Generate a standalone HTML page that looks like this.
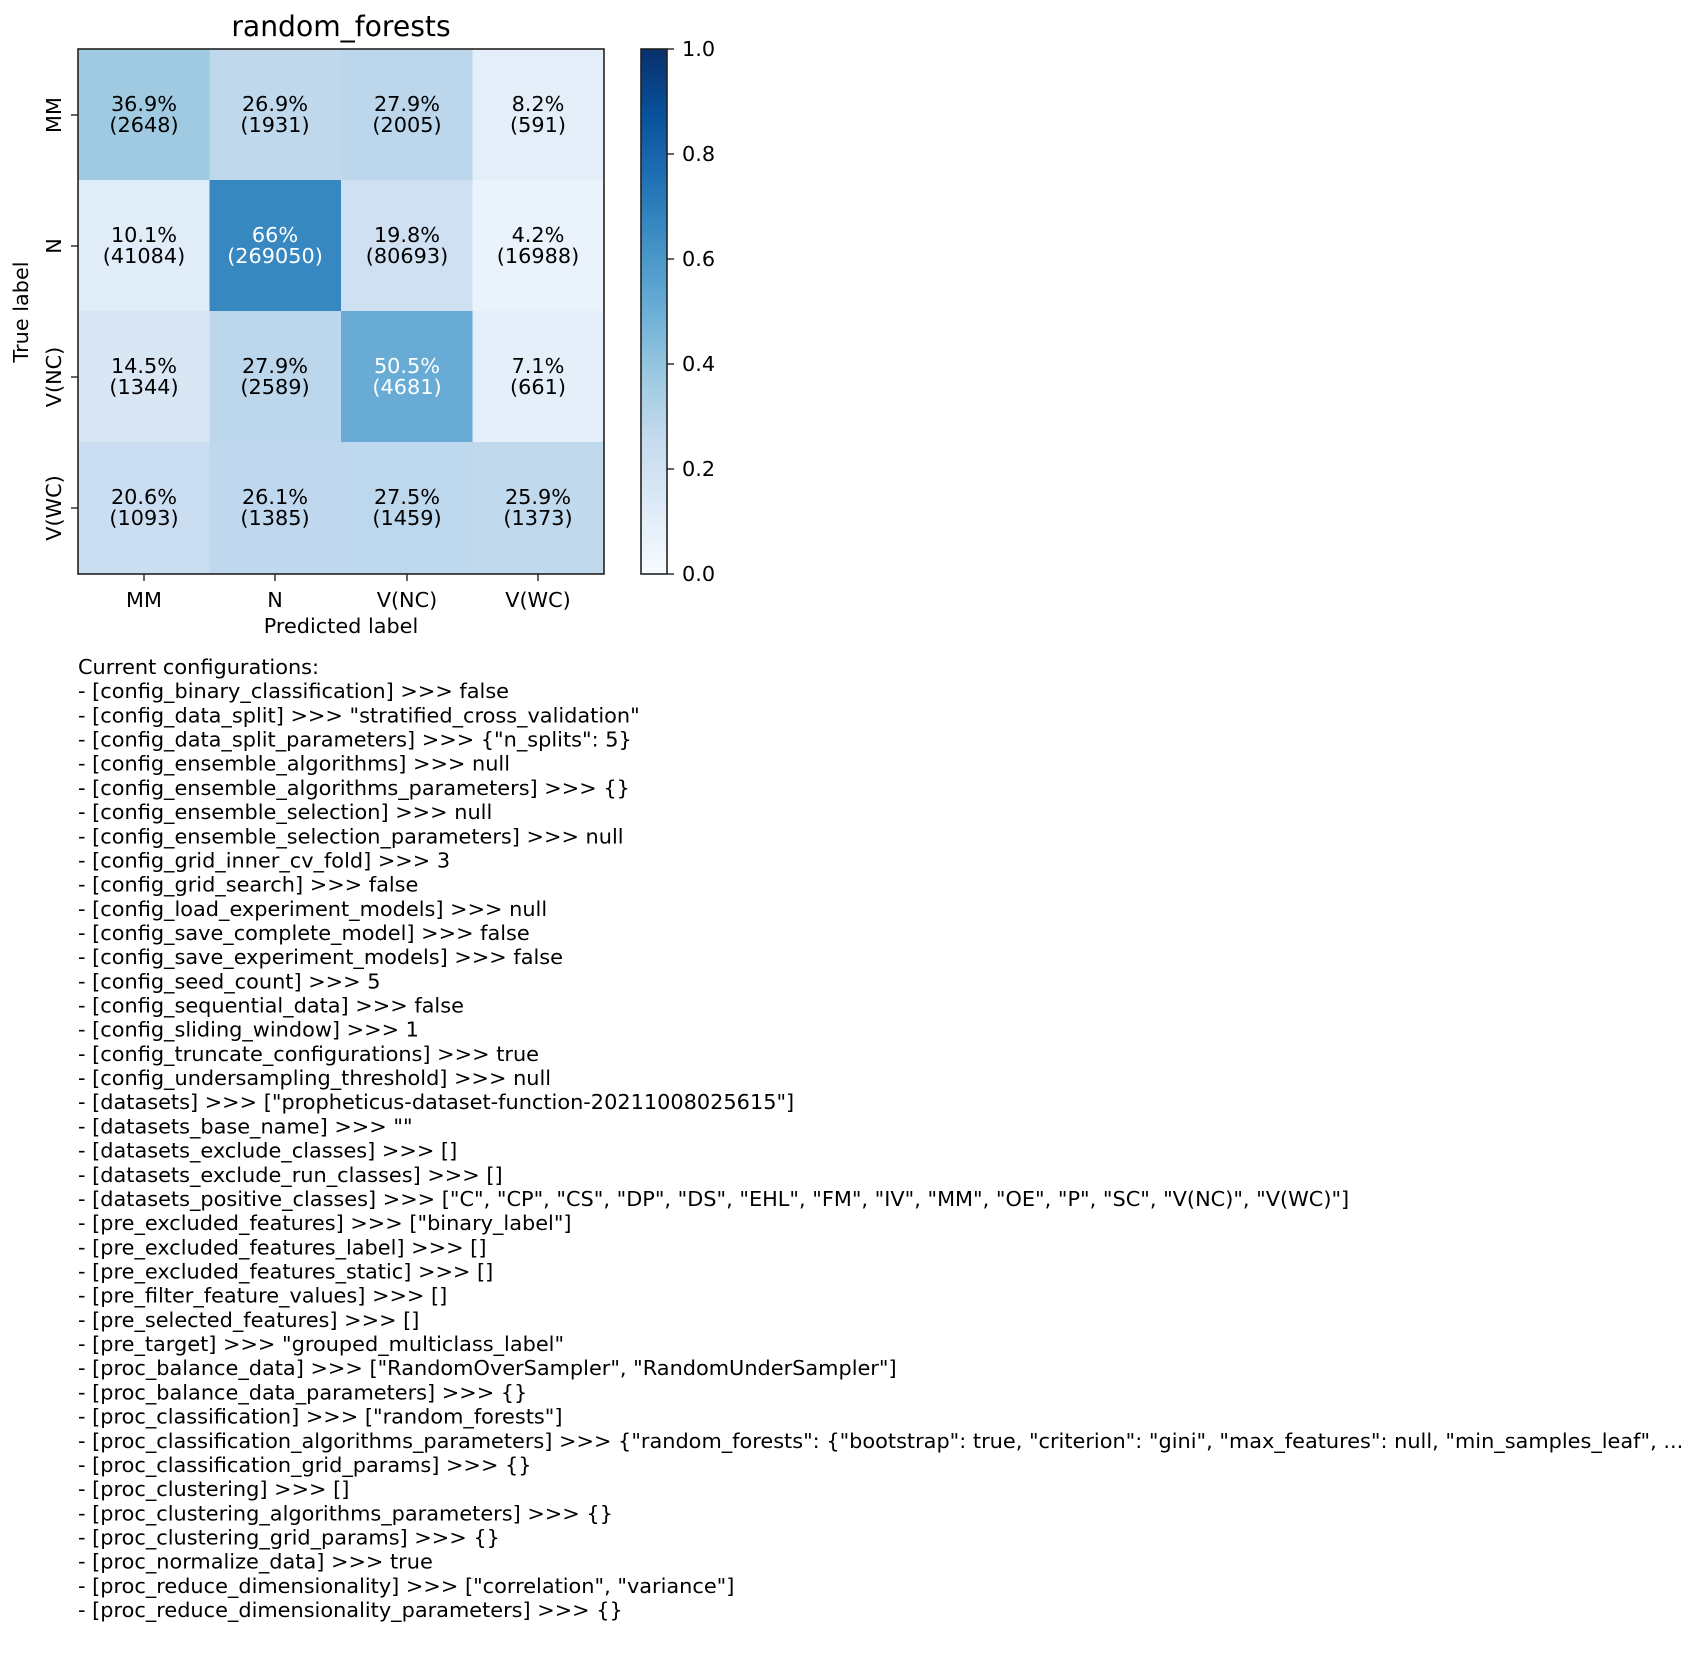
<!DOCTYPE html>
<html><head><meta charset="utf-8"><style>
html,body{margin:0;padding:0;background:#fff;}
svg{display:block;}
text{font-family:"DejaVu Sans","Liberation Sans",sans-serif;}
</style></head><body>
<svg width="1706" height="1659" viewBox="0 0 1706 1659" xmlns="http://www.w3.org/2000/svg">
<defs>
<linearGradient id="cb" x1="0" y1="1" x2="0" y2="0">
<stop offset="0" stop-color="#f7fbff"/><stop offset="0.125" stop-color="#deebf7"/>
<stop offset="0.25" stop-color="#c6dbef"/><stop offset="0.375" stop-color="#9ecae1"/>
<stop offset="0.5" stop-color="#6baed6"/><stop offset="0.625" stop-color="#4292c6"/>
<stop offset="0.75" stop-color="#2171b5"/><stop offset="0.875" stop-color="#08519c"/>
<stop offset="1" stop-color="#08306b"/>
</linearGradient>
</defs>
<text x="341" y="36" font-size="28.2" text-anchor="middle">random_forests</text>
<g>
<rect x="78" y="49" width="132" height="132" fill="#a0cae1"/>
<rect x="209.5" y="49" width="132" height="132" fill="#bfd8ec"/>
<rect x="341" y="49" width="132" height="132" fill="#bcd7eb"/>
<rect x="472.5" y="49" width="132" height="132" fill="#e3eef8"/>
<rect x="78" y="180" width="132" height="132" fill="#e0ecf8"/>
<rect x="209.5" y="180" width="132" height="132" fill="#3787c0"/>
<rect x="341" y="180" width="132" height="132" fill="#cee0f2"/>
<rect x="472.5" y="180" width="132" height="132" fill="#eaf3fb"/>
<rect x="78" y="311" width="132" height="132" fill="#d9e7f5"/>
<rect x="209.5" y="311" width="132" height="132" fill="#bcd7eb"/>
<rect x="341" y="311" width="132" height="132" fill="#68acd5"/>
<rect x="472.5" y="311" width="132" height="132" fill="#e5eff9"/>
<rect x="78" y="442" width="132" height="132" fill="#cbdef1"/>
<rect x="209.5" y="442" width="132" height="132" fill="#c0d8ed"/>
<rect x="341" y="442" width="132" height="132" fill="#bdd7ec"/>
<rect x="472.5" y="442" width="132" height="132" fill="#c1d9ed"/>
</g>
<rect x="78" y="49" width="526" height="525" fill="none" stroke="#222" stroke-width="1.6"/>
<g font-size="20.8" text-anchor="middle">
<text x="144" y="111">36.9%</text><text x="144" y="132">(2648)</text>
<text x="275" y="111">26.9%</text><text x="275" y="132">(1931)</text>
<text x="407" y="111">27.9%</text><text x="407" y="132">(2005)</text>
<text x="538" y="111">8.2%</text><text x="538" y="132">(591)</text>
<text x="144" y="242">10.1%</text><text x="144" y="263">(41084)</text>
<text x="275" y="242" fill="#fff">66%</text><text x="275" y="263" fill="#fff">(269050)</text>
<text x="407" y="242">19.8%</text><text x="407" y="263">(80693)</text>
<text x="538" y="242">4.2%</text><text x="538" y="263">(16988)</text>
<text x="144" y="373">14.5%</text><text x="144" y="394">(1344)</text>
<text x="275" y="373">27.9%</text><text x="275" y="394">(2589)</text>
<text x="407" y="373" fill="#fff">50.5%</text><text x="407" y="394" fill="#fff">(4681)</text>
<text x="538" y="373">7.1%</text><text x="538" y="394">(661)</text>
<text x="144" y="504">20.6%</text><text x="144" y="525">(1093)</text>
<text x="275" y="504">26.1%</text><text x="275" y="525">(1385)</text>
<text x="407" y="504">27.5%</text><text x="407" y="525">(1459)</text>
<text x="538" y="504">25.9%</text><text x="538" y="525">(1373)</text>
</g>
<g stroke="#222" stroke-width="1.4">
<line x1="71" y1="115" x2="78" y2="115"/><line x1="71" y1="246" x2="78" y2="246"/>
<line x1="71" y1="377" x2="78" y2="377"/><line x1="71" y1="508" x2="78" y2="508"/>
<line x1="144" y1="574" x2="144" y2="581"/><line x1="275" y1="574" x2="275" y2="581"/>
<line x1="407" y1="574" x2="407" y2="581"/><line x1="538" y1="574" x2="538" y2="581"/>
</g>
<g font-size="20.8" text-anchor="middle">
<text transform="translate(61,115) rotate(-90)">MM</text>
<text transform="translate(61,246) rotate(-90)">N</text>
<text transform="translate(61,377) rotate(-90)">V(NC)</text>
<text transform="translate(61,508) rotate(-90)">V(WC)</text>
<text transform="translate(28,312) rotate(-90)">True label</text>
<text x="144" y="607">MM</text><text x="275" y="607">N</text>
<text x="407" y="607">V(NC)</text><text x="538" y="607">V(WC)</text>
<text x="341" y="633">Predicted label</text>
</g>
<rect x="641" y="49" width="26" height="525" fill="url(#cb)" stroke="#222" stroke-width="1.6"/>
<g stroke="#222" stroke-width="1.4">
<line x1="667" y1="574" x2="674" y2="574"/><line x1="667" y1="469" x2="674" y2="469"/>
<line x1="667" y1="364" x2="674" y2="364"/><line x1="667" y1="259" x2="674" y2="259"/>
<line x1="667" y1="154" x2="674" y2="154"/><line x1="667" y1="49" x2="674" y2="49"/>
</g>
<g font-size="20.8">
<text x="682" y="581">0.0</text><text x="682" y="476">0.2</text>
<text x="682" y="371">0.4</text><text x="682" y="266">0.6</text>
<text x="682" y="161">0.8</text><text x="682" y="56">1.0</text>
</g>
<g font-size="20.85" xml:space="preserve">
<text x="78" y="674">Current configurations:</text>
<text x="78" y="698.2">- [config_binary_classification] &gt;&gt;&gt; false</text>
<text x="78" y="722.4">- [config_data_split] &gt;&gt;&gt; "stratified_cross_validation"</text>
<text x="78" y="746.5">- [config_data_split_parameters] &gt;&gt;&gt; {"n_splits": 5}</text>
<text x="78" y="770.7">- [config_ensemble_algorithms] &gt;&gt;&gt; null</text>
<text x="78" y="794.9">- [config_ensemble_algorithms_parameters] &gt;&gt;&gt; {}</text>
<text x="78" y="819.1">- [config_ensemble_selection] &gt;&gt;&gt; null</text>
<text x="78" y="843.3">- [config_ensemble_selection_parameters] &gt;&gt;&gt; null</text>
<text x="78" y="867.4">- [config_grid_inner_cv_fold] &gt;&gt;&gt; 3</text>
<text x="78" y="891.6">- [config_grid_search] &gt;&gt;&gt; false</text>
<text x="78" y="915.8">- [config_load_experiment_models] &gt;&gt;&gt; null</text>
<text x="78" y="940">- [config_save_complete_model] &gt;&gt;&gt; false</text>
<text x="78" y="964.2">- [config_save_experiment_models] &gt;&gt;&gt; false</text>
<text x="78" y="988.3">- [config_seed_count] &gt;&gt;&gt; 5</text>
<text x="78" y="1012.5">- [config_sequential_data] &gt;&gt;&gt; false</text>
<text x="78" y="1036.7">- [config_sliding_window] &gt;&gt;&gt; 1</text>
<text x="78" y="1060.9">- [config_truncate_configurations] &gt;&gt;&gt; true</text>
<text x="78" y="1085.1">- [config_undersampling_threshold] &gt;&gt;&gt; null</text>
<text x="78" y="1109.2">- [datasets] &gt;&gt;&gt; ["propheticus-dataset-function-20211008025615"]</text>
<text x="78" y="1133.4">- [datasets_base_name] &gt;&gt;&gt; ""</text>
<text x="78" y="1157.6">- [datasets_exclude_classes] &gt;&gt;&gt; []</text>
<text x="78" y="1181.8">- [datasets_exclude_run_classes] &gt;&gt;&gt; []</text>
<text x="78" y="1206">- [datasets_positive_classes] &gt;&gt;&gt; ["C", "CP", "CS", "DP", "DS", "EHL", "FM", "IV", "MM", "OE", "P", "SC", "V(NC)", "V(WC)"]</text>
<text x="78" y="1230.1">- [pre_excluded_features] &gt;&gt;&gt; ["binary_label"]</text>
<text x="78" y="1254.3">- [pre_excluded_features_label] &gt;&gt;&gt; []</text>
<text x="78" y="1278.5">- [pre_excluded_features_static] &gt;&gt;&gt; []</text>
<text x="78" y="1302.7">- [pre_filter_feature_values] &gt;&gt;&gt; []</text>
<text x="78" y="1326.9">- [pre_selected_features] &gt;&gt;&gt; []</text>
<text x="78" y="1351">- [pre_target] &gt;&gt;&gt; "grouped_multiclass_label"</text>
<text x="78" y="1375.2">- [proc_balance_data] &gt;&gt;&gt; ["RandomOverSampler", "RandomUnderSampler"]</text>
<text x="78" y="1399.4">- [proc_balance_data_parameters] &gt;&gt;&gt; {}</text>
<text x="78" y="1423.6">- [proc_classification] &gt;&gt;&gt; ["random_forests"]</text>
<text x="78" y="1447.8">- [proc_classification_algorithms_parameters] &gt;&gt;&gt; {"random_forests": {"bootstrap": true, "criterion": "gini", "max_features": null, "min_samples_leaf", ...</text>
<text x="78" y="1471.9">- [proc_classification_grid_params] &gt;&gt;&gt; {}</text>
<text x="78" y="1496.1">- [proc_clustering] &gt;&gt;&gt; []</text>
<text x="78" y="1520.3">- [proc_clustering_algorithms_parameters] &gt;&gt;&gt; {}</text>
<text x="78" y="1544.5">- [proc_clustering_grid_params] &gt;&gt;&gt; {}</text>
<text x="78" y="1568.7">- [proc_normalize_data] &gt;&gt;&gt; true</text>
<text x="78" y="1592.8">- [proc_reduce_dimensionality] &gt;&gt;&gt; ["correlation", "variance"]</text>
<text x="78" y="1617">- [proc_reduce_dimensionality_parameters] &gt;&gt;&gt; {}</text>
</g>
</svg>
</body></html>
